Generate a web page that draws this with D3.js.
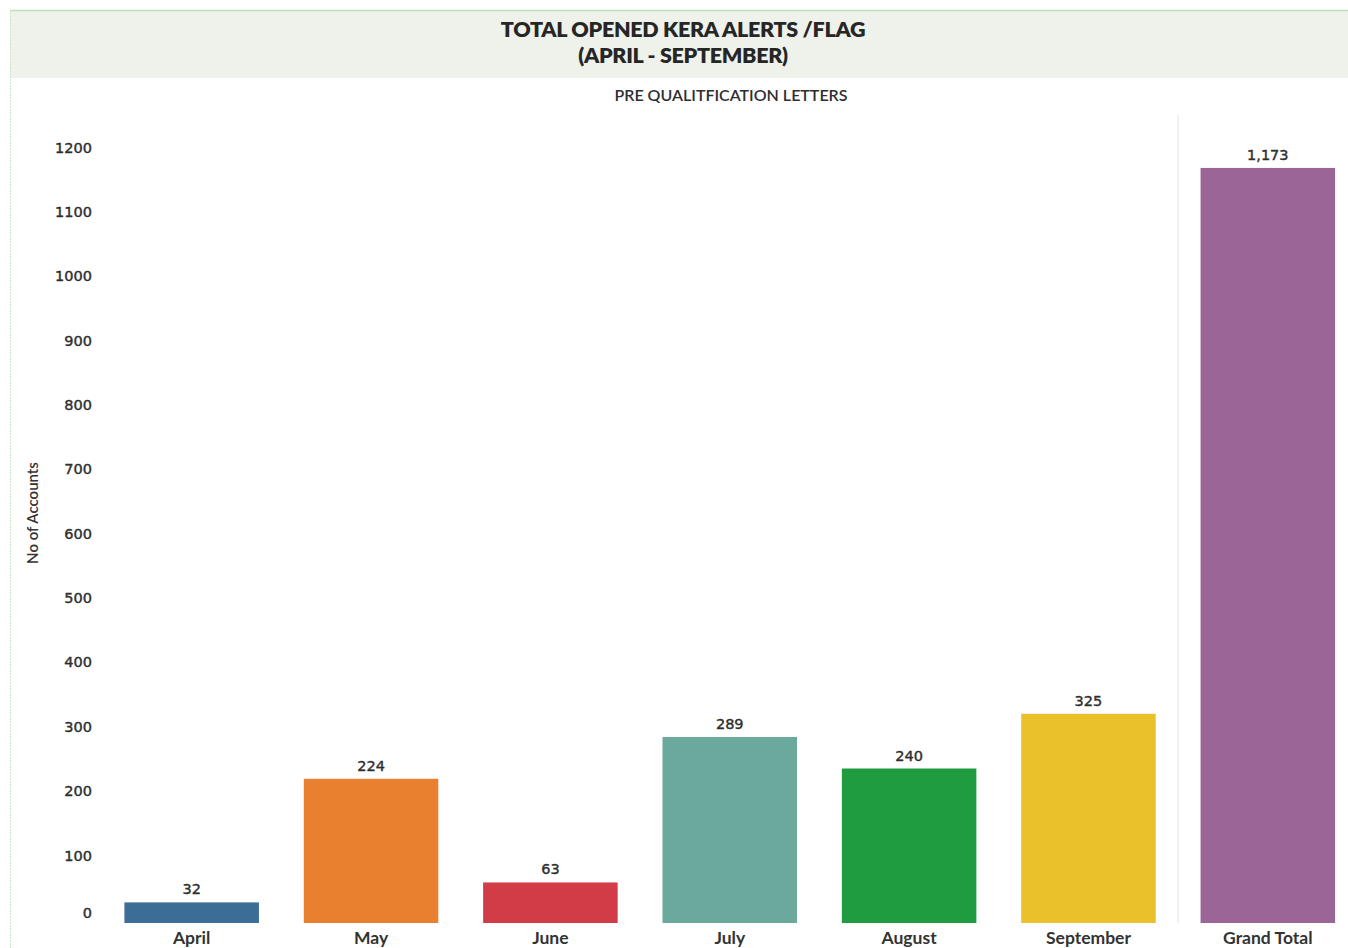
<!DOCTYPE html>
<html>
<head>
<meta charset="utf-8">
<script src="https://cdn.jsdelivr.net/npm/d3@7"></script>
<style>
  html, body { margin: 0; padding: 0; background: #ffffff; }
  svg { display: block; font-family: Lato, "Open Sans", sans-serif; }
</style>
</head>
<body>
<svg id="chart" width="1348" height="948"></svg>
<script>
// Monthly counts of opened KERA alerts, plus the overall total
const months = ["April", "May", "June", "July", "August", "September", "Grand Total"];
const accounts = [32, 224, 63, 289, 240, 325, 1173];
const barColors = ["#3c6d96", "#e8802f", "#d13c47", "#6aa99b", "#1f9b40", "#eac12b", "#9c6597"];
const yTicks = [0, 100, 200, 300, 400, 500, 600, 700, 800, 900, 1000, 1100, 1200];
const titleLines = ["TOTAL OPENED KERA ALERTS /FLAG", "(APRIL - SEPTEMBER)"];
const subtitle = "PRE QUALITFICATION LETTERS";
const yTitle = "No of Accounts";

const svg = d3.select("#chart");
const W = 1348, H = 948;
const numFont = "'DejaVu Sans', Verdana, sans-serif";
const labelFont = "Lato, sans-serif";

// header band
svg.append("rect").attr("x", 10).attr("y", 10).attr("width", W - 10).attr("height", 68)
  .attr("fill", "#eef2ea");
svg.append("line").attr("x1", 10).attr("x2", W).attr("y1", 10.5).attr("y2", 10.5)
  .attr("stroke", "#bfe0bf").attr("stroke-width", 1.5);
svg.append("line").attr("x1", 10.5).attr("x2", 10.5).attr("y1", 10).attr("y2", H)
  .attr("stroke", "#c6e6c6").attr("stroke-width", 1).attr("stroke-dasharray", "2,1");

svg.selectAll("text.title").data(titleLines).join("text")
  .attr("class", "title")
  .attr("x", 683).attr("y", (d, i) => 37 + i * 26)
  .attr("text-anchor", "middle")
  .style("font-family", labelFont)
  .attr("font-size", 21.5).attr("font-weight", 800).attr("fill", "#262626")
  .attr("letter-spacing", -0.3)
  .text(d => d);

svg.append("text").attr("x", 731).attr("y", 101).attr("text-anchor", "middle")
  .style("font-family", labelFont)
  .attr("font-size", 16).attr("font-weight", 600).attr("fill", "#2e2e2e")
  .text(subtitle);

// scales
const plotLeft = 102, plotRight = 1357.5, baseY = 923;
const x = d3.scaleBand().domain(months).range([plotLeft, plotRight]).paddingInner(0.25).paddingOuter(0.125);
const y = d3.scaleLinear().domain([0, 1200]).range([baseY, baseY - 1200 * 0.6437]);

// separator between months and grand total
const sepX = x("Grand Total") - x.step() * x.paddingInner() / 2;
svg.append("line").attr("x1", sepX).attr("x2", sepX).attr("y1", 115).attr("y2", baseY)
  .attr("stroke", "#ececec").attr("stroke-width", 1.5);

// numeric text: regular weight with a thin outline for a semi-bold look
function numStyle(sel) {
  sel.style("font-family", numFont)
    .style("font-size", "14.5px").style("font-weight", 400)
    .attr("fill", "#2e2e2e").attr("stroke", "#2e2e2e").attr("stroke-width", 0.4);
}

// y axis (labels only)
const yAxis = d3.axisLeft(y).tickValues(yTicks).tickSize(0).tickPadding(0).tickFormat(d3.format("d"));
const gy = svg.append("g").attr("transform", "translate(92,0)").call(yAxis);
gy.select(".domain").remove();
gy.selectAll("text").call(numStyle)
  .attr("dy", d => d === 0 ? "-0.35em" : "0.1em");

svg.append("text")
  .attr("transform", "translate(38,513) rotate(-90)")
  .attr("text-anchor", "middle")
  .style("font-family", labelFont)
  .attr("font-size", 15).attr("font-weight", 600).attr("fill", "#333")
  .text(yTitle);

// bars
svg.selectAll("rect.bar").data(months).join("rect")
  .attr("class", "bar")
  .attr("x", d => x(d))
  .attr("width", x.bandwidth())
  .attr("y", (d, i) => y(accounts[i]))
  .attr("height", (d, i) => baseY - y(accounts[i]))
  .attr("fill", (d, i) => barColors[i]);

// value labels
svg.selectAll("text.val").data(months).join("text")
  .attr("class", "val")
  .attr("x", d => x(d) + x.bandwidth() / 2)
  .attr("y", (d, i) => y(accounts[i]) - 8)
  .attr("text-anchor", "middle")
  .call(numStyle)
  .text((d, i) => d3.format(",")(accounts[i]));

// category labels
const xAxis = d3.axisBottom(x).tickSize(0).tickPadding(0);
const gx = svg.append("g").attr("transform", `translate(0,${baseY})`).call(xAxis);
gx.select(".domain").remove();
gx.selectAll("text")
  .style("font-family", labelFont)
  .style("font-size", "17.5px").style("font-weight", 700).attr("fill", "#333")
  .attr("y", 21).attr("dy", 0);
</script>
</body>
</html>
